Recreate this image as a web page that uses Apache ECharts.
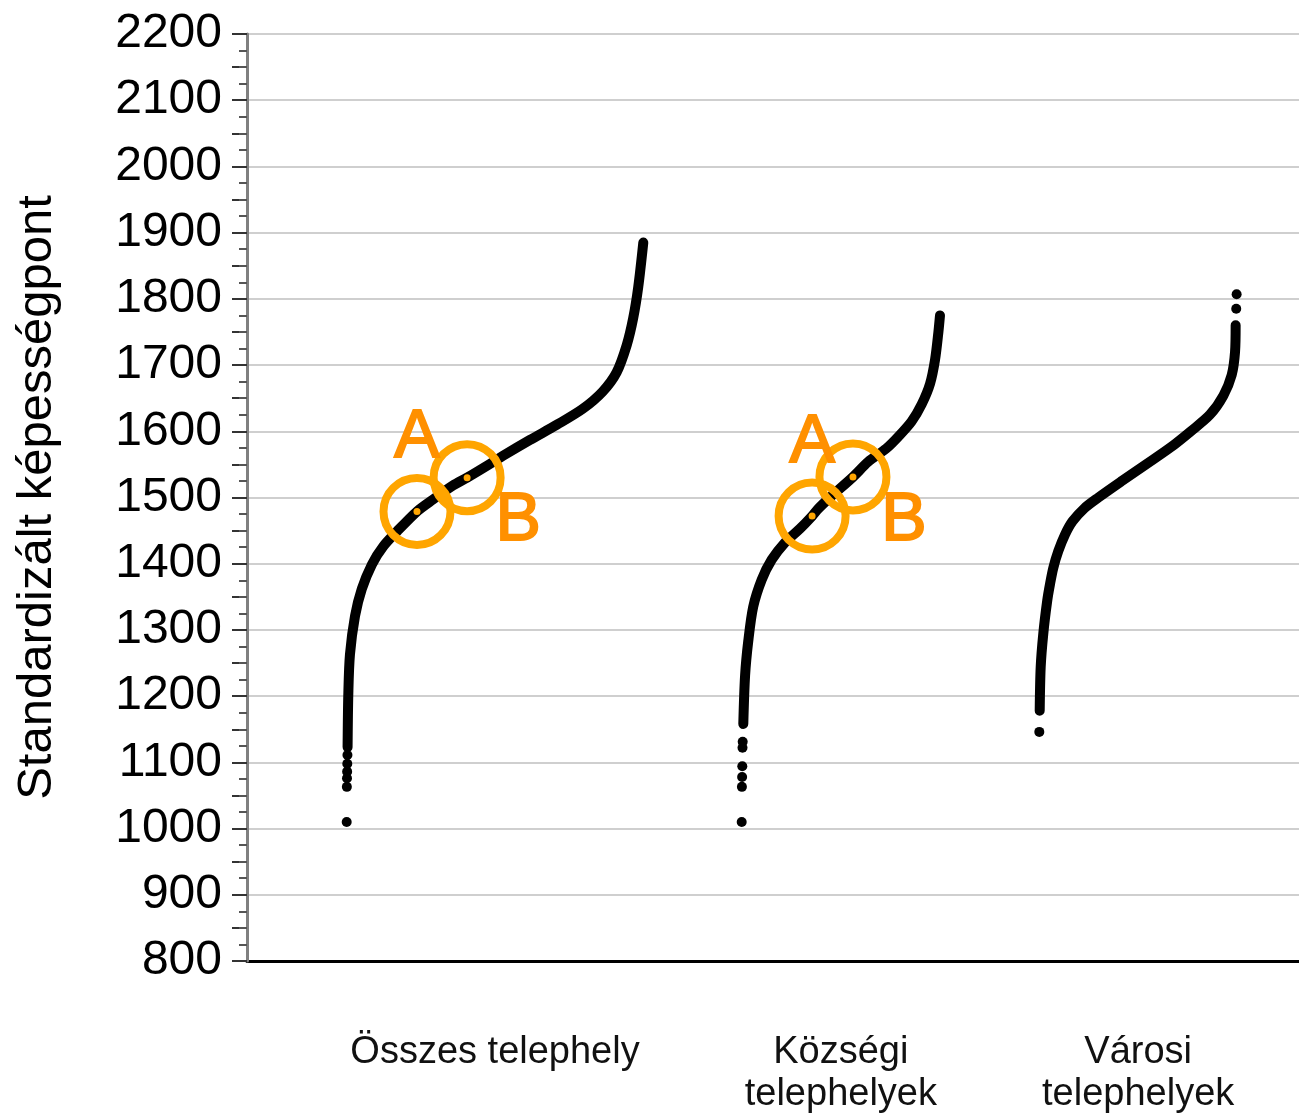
<!DOCTYPE html>
<html>
<head>
<meta charset="utf-8">
<script src="https://cdn.jsdelivr.net/npm/echarts@6/dist/echarts.min.js"></script>
<style>
  html, body { margin: 0; padding: 0; background: #ffffff; }
  #chart { width: 1299px; height: 1116px; }
</style>
</head>
<body>
<div id="chart"></div>
<script>
// Category names shown under each distribution
const categories = ['Összes telephely', 'Községi\ntelephelyek', 'Városi\ntelephelyek'];

// Y axis tick values (standardised ability score)
const yTickValues = [800, 900, 1000, 1100, 1200, 1300, 1400, 1500, 1600, 1700, 1800, 1900, 2000, 2100, 2200];

// Sorted site scores per group: [percentile rank, score]
// dense part of each ordered distribution
const osszesCurve = [
  [0.3, 1123], [0.55, 1204], [1.1, 1263], [2.8, 1321], [5.1, 1362], [8.5, 1399],
  [12.3, 1426], [17.0, 1449], [23.7, 1479], [29.1, 1497], [35.8, 1518], [40.6, 1530],
  [47.3, 1548], [52.7, 1563], [61.8, 1587], [70.9, 1610], [79.6, 1634], [86.3, 1660],
  [91.0, 1689], [94.4, 1730], [96.6, 1771], [98.3, 1818], [100, 1885]
];
// isolated sites at the tails
const osszesSparse = [[0, 1010], [0.05, 1063], [0.1, 1076], [0.15, 1086], [0.2, 1098], [0.25, 1111]];

const kozsegiCurve = [
  [0.8, 1158], [1.7, 1231], [3.3, 1283], [5.8, 1335], [10.1, 1376], [15.1, 1406],
  [21.8, 1432], [29.4, 1453], [35.5, 1472], [38.6, 1483], [44.5, 1500], [56.1, 1531],
  [63.8, 1554], [72.9, 1574], [79.0, 1592], [85.7, 1615], [90.8, 1641], [95.0, 1672],
  [97.5, 1708], [99.2, 1750], [100, 1775]
];
const kozsegiSparse = [[0, 1010], [0.1, 1063], [0.2, 1078], [0.3, 1094], [0.4, 1122], [0.5, 1131]];

const varosiCurve = [
  [0.2, 1178], [0.7, 1244], [2.0, 1294], [4.0, 1344], [5.4, 1369], [7.1, 1394],
  [9.6, 1419], [13.0, 1444], [16.8, 1464], [22.9, 1484], [29.9, 1500], [41.8, 1525],
  [54.0, 1550], [66.1, 1575], [76.6, 1600], [86.3, 1625], [93.1, 1654], [97.3, 1685],
  [99.0, 1720], [99.3, 1760]
];
const varosiSparse = [[0, 1146], [99.6, 1785], [99.8, 1807]];

// Two marked sites (A, B) in the overall and the village groups: [percentile rank, score]
const markedNames = ['A', 'B'];
const osszesMarked = [[23.7, 1479], [40.6, 1530]];
const kozsegiMarked = [[35.5, 1472], [56.1, 1531]];

// Horizontal placement of each group on the x scale (start and width in axis units)
const groupStart = [3.317, 16.459, 26.36];
const groupSpan = [9.868, 6.597, 6.578];
const groupCenters = groupStart.map((s, i) => s + groupSpan[i] / 2);

function place(group, pts) {
  return pts.map(p => [groupStart[group] + p[0] / 100 * groupSpan[group], p[1]]);
}

const FONT = 'Liberation Sans, Arial, sans-serif';
const ORANGE = '#ffa500';

function curveSeries(group, pts) {
  return {
    type: 'line',
    data: place(group, pts),
    showSymbol: false,
    smooth: 0.3,
    lineStyle: { color: '#000', width: 10, cap: 'round', join: 'round' },
    silent: true,
    z: 3
  };
}
function sparseSeries(group, pts) {
  return {
    type: 'scatter',
    data: place(group, pts),
    symbol: 'circle',
    symbolSize: 10,
    itemStyle: { color: '#000', opacity: 1 },
    silent: true,
    z: 3
  };
}
const labelOffsets = { A: [0, -73], B: [51, 44] };
function markedSeries(group, pts) {
  const placed = place(group, pts);
  return [
    {
      type: 'scatter',
      data: placed.map((v, i) => ({
        value: v,
        name: markedNames[i],
        label: {
          show: true,
          position: 'inside',
          formatter: markedNames[i],
          offset: labelOffsets[markedNames[i]],
          fontSize: 68,
          fontFamily: FONT,
          color: '#ff9000',
          textBorderColor: '#ff9000',
          textBorderWidth: 2
        }
      })),
      symbol: 'circle',
      symbolSize: 67,
      itemStyle: { color: 'rgba(0,0,0,0)', borderColor: ORANGE, borderWidth: 8, opacity: 1 },
      silent: true,
      z: 5
    },
    {
      type: 'scatter',
      data: placed,
      symbol: 'circle',
      symbolSize: 7,
      itemStyle: { color: ORANGE, opacity: 1 },
      silent: true,
      z: 6
    }
  ];
}

// tick marks every 50 points
const tickValues50 = [];
for (let i = 0; i < yTickValues.length - 1; i++) {
  tickValues50.push(yTickValues[i], (yTickValues[i] + yTickValues[i + 1]) / 2);
}
tickValues50.push(yTickValues[yTickValues.length - 1]);

const chart = echarts.init(document.getElementById('chart'), null, { renderer: 'canvas' });
chart.setOption({
  animation: false,
  backgroundColor: '#ffffff',
  grid: { left: 247, right: 0, top: 34, bottom: 151, containLabel: false },
  xAxis: {
    type: 'value',
    min: 0,
    max: 35,
    splitLine: { show: false },
    axisTick: { show: false },
    axisLine: { show: true, onZero: false, lineStyle: { color: '#000', width: 3 } },
    axisLabel: {
      customValues: groupCenters,
      formatter: v => {
        let best = 0;
        groupCenters.forEach((c, i) => { if (Math.abs(c - v) < Math.abs(groupCenters[best] - v)) best = i; });
        return categories[best];
      },
      fontSize: 38,
      lineHeight: 42,
      fontFamily: FONT,
      color: '#111',
      margin: 71
    }
  },
  yAxis: [
    {
      type: 'value',
      min: 800,
      max: 2200,
      interval: 100,
      name: 'Standardizált képességpont',
      nameLocation: 'middle',
      nameGap: 185,
      nameTextStyle: { fontSize: 49, fontFamily: FONT, color: '#000' },
      axisLine: { show: true, lineStyle: { color: '#808080', width: 3 } },
      axisTick: {
        show: true,
        customValues: tickValues50,
        length: 15,
        lineStyle: { color: '#333', width: 2 }
      },
      minorTick: { show: true, splitNumber: 4, length: 8, lineStyle: { color: '#555', width: 2 } },
      axisLabel: {
        customValues: yTickValues,
        formatter: v => String(v),
        fontSize: 48,
        fontFamily: FONT,
        color: '#000',
        margin: 25,
        padding: [0, 0, 6, 0]
      },
      splitLine: { show: false },
      z: 4
    },
    {
      // horizontal grid lines every 100 points
      type: 'value',
      position: 'left',
      min: 800,
      max: 2200,
      interval: 100,
      axisLine: { show: false },
      axisTick: { show: false },
      axisLabel: { show: false },
      splitLine: { show: true, lineStyle: { color: '#cfcfcf', width: 2 } }
    }
  ],
  series: [
    curveSeries(0, osszesCurve),
    sparseSeries(0, osszesSparse),
    curveSeries(1, kozsegiCurve),
    sparseSeries(1, kozsegiSparse),
    curveSeries(2, varosiCurve),
    sparseSeries(2, varosiSparse),
    ...markedSeries(0, osszesMarked),
    ...markedSeries(1, kozsegiMarked)
  ]
});
</script>
</body>
</html>
